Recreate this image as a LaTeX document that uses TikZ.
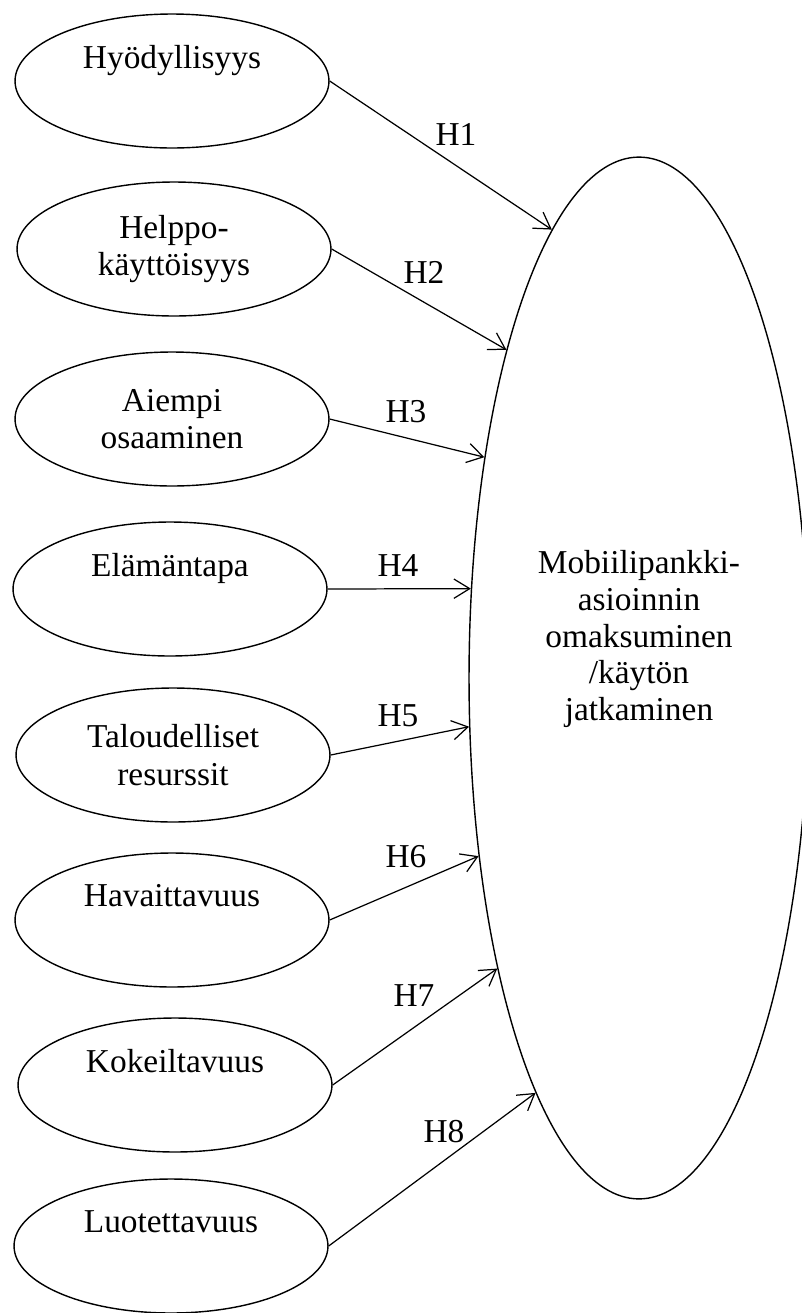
\documentclass[tikz,border=0pt]{standalone}
\usepackage{fontspec}
\setmainfont{Liberation Serif}
\usepackage{tikz}
\usetikzlibrary{shapes.geometric,arrows.meta}

\tikzset{
  factor/.style={draw, ellipse, line width=0.8pt, minimum width=6.28cm, minimum height=2.68cm, inner sep=0pt, align=center, font=\fontsize{19}{21.5}\selectfont},
  outcome/.style={draw, ellipse, line width=0.8pt, minimum width=6.8cm, minimum height=20.84cm, inner sep=0pt},
  hyp/.style={-{Straight Barb[length=9pt,width=11pt]}, line width=0.7pt},
  hlabel/.style={inner sep=0pt, align=center, font=\fontsize{19}{21}\selectfont}
}

\begin{document}
\begin{tikzpicture}[x=0.02cm, y=-0.02cm]
\useasboundingbox (0,0) rectangle (802,1313);
\clip (0,0) rectangle (802,1313);
\node[factor] (f1) at (172,81) {Hyödyllisyys\\\strut};
\node[factor] (f2) at (174,249) {Helppo-\\käyttöisyys};
\node[factor] (f3) at (172,419) {Aiempi\\osaaminen};
\node[factor] (f4) at (170,589) {Elämäntapa\\\strut};
\node[factor] (f5) at (173,755) {Taloudelliset\\resurssit};
\node[factor] (f6) at (172,920) {Havaittavuus\\\strut};
\node[factor] (f7) at (175,1085) {Kokeiltavuus\\\strut};
\node[factor] (f8) at (171,1246) {Luotettavuus\\\strut};

\node[outcome] (use) at (639,678) {};
\node[hlabel] (usetext) at (639,639) {Mobiilipankki-\\asioinnin\\omaksuminen\\/käytön\\jatkaminen};

\node[hlabel] (h1) at (456,134) {H1};
\node[hlabel] (h2) at (424,272) {H2};
\node[hlabel] (h3) at (406,412) {H3};
\node[hlabel] (h4) at (398,566) {H4};
\node[hlabel] (h5) at (398,716) {H5};
\node[hlabel] (h6) at (406,857) {H6};
\node[hlabel] (h7) at (414,996) {H7};
\node[hlabel] (h8) at (444,1132) {H8};

\draw[hyp] (f1.east) -- (use.101.7);
\draw[hyp] (f2.east) -- (use.112.3);
\draw[hyp] (f3.east) -- (use.125.4);
\draw[hyp] (f4.east) -- (use.152.5);
\draw[hyp] (f5.east) -- (use.196.4);
\draw[hyp] (f6.east) -- (use.228.5);
\draw[hyp] (f7.east) -- (use.244.9);
\draw[hyp] (f8.east) -- (use.256.9);
\end{tikzpicture}
\end{document}
